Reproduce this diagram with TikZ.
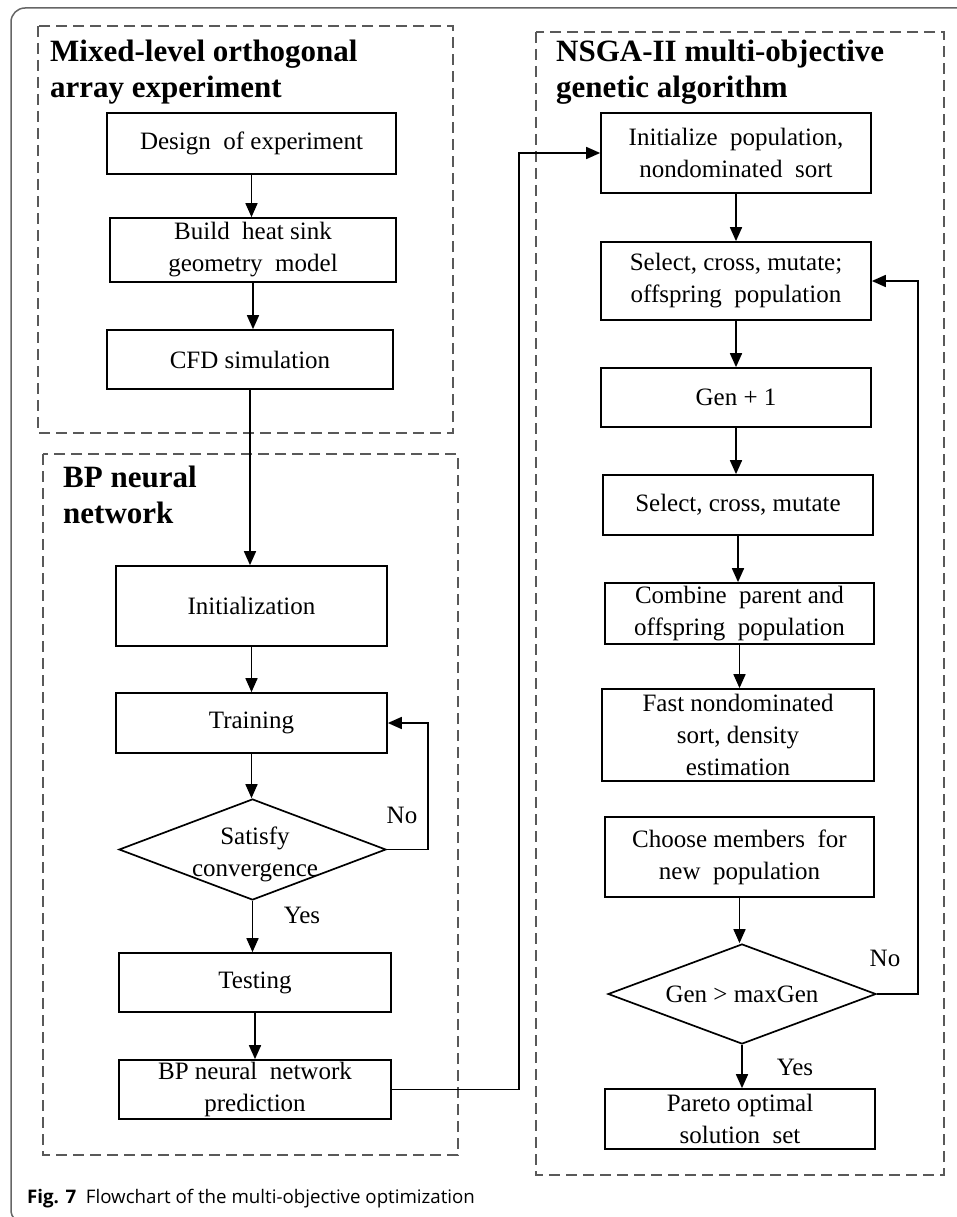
\documentclass[tikz,border=0pt]{standalone}
\usepackage{fontspec}
\setmainfont{Liberation Serif}
\newfontfamily\capfont{Open Sans}
\usetikzlibrary{arrows.meta,shapes.geometric}
\newcommand\bxfont{\fontsize{25}{32}\selectfont}
\newcommand\ttlfont{\fontsize{31}{36}\selectfont\bfseries}
\begin{document}
\begin{tikzpicture}[x=1pt,y=-1pt,
  box/.style={draw, line width=1.7pt, inner sep=2pt, align=center, font=\bxfont},
  dia/.style={draw, diamond, line width=1.7pt, inner sep=0pt},
  lbl/.style={font=\bxfont, inner sep=0pt},
  ttl/.style={font=\ttlfont, anchor=base west, inner sep=0pt},
  arr/.style={-{Triangle[length=14pt,width=12pt]}, line width=1.7pt},
  grp/.style={draw=black!65, line width=1.6pt, dash pattern=on 11pt off 6pt},
  frame/.style={draw=black!60, line width=1.5pt, rounded corners=14pt}]
\useasboundingbox (0,0) rectangle (957,1217);
\fill[white] (0,0) rectangle (957,1217);
\begin{scope}
\clip (0,0) rectangle (957,1217);
\draw[frame] (11,8) rectangle (995,1224);
\end{scope}

% group boxes
\draw[grp] (38,26) rectangle (453,433);
\draw[grp] (43,454) rectangle (458,1155);
\draw[grp] (536,32) rectangle (944,1175);

% titles
\node[ttl] (t1a) at (50,62) {Mixed-level orthogonal};
\node[ttl] (t1b) at (50,98) {array experiment};
\node[ttl] (t2a) at (63,487) {BP neural};
\node[ttl] (t2b) at (63,523) {network};
\node[ttl] (t3a) at (556,62) {NSGA-II multi-objective};
\node[ttl] (t3b) at (556,98) {genetic algorithm};

% left column
\node[box, minimum width=289pt, minimum height=61pt] (doe) at (251.5,143.5) {Design\ \ of experiment};
\node[box, minimum width=286pt, minimum height=64pt] (build) at (253,250) {Build\ \ heat sink\\geometry\ \ model};
\node[box, minimum width=286pt, minimum height=59pt] (cfd) at (250,359.5) {CFD simulation};
\node[box, minimum width=271pt, minimum height=80pt] (init) at (251.5,606) {Initialization};
\node[box, minimum width=271pt, minimum height=60pt] (train) at (251.5,723) {Training};
\node[dia, minimum width=267pt, minimum height=101pt] (sat) at (252.5,849.5) {};
\node[lbl, align=center] (satt) at (255,854) {Satisfy\\convergence};
\node[box, minimum width=272pt, minimum height=59pt] (test) at (255,982.5) {Testing};
\node[box, minimum width=272pt, minimum height=59pt] (pred) at (255,1089.5) {BP neural\ \ network\\prediction};
\node[lbl] (no1) at (402,815) {No};
\node[lbl] (yes1) at (302,915) {Yes};

% right column
\node[box, minimum width=270pt, minimum height=80pt] (ipop) at (736,153) {Initialize\ \ population,\\nondominated\ \ sort};
\node[box, minimum width=270pt, minimum height=78pt] (sco) at (736,281) {Select,\ cross,\ mutate;\\offspring\ \ population};
\node[box, minimum width=270pt, minimum height=59pt] (gen) at (736,397.5) {Gen + 1};
\node[box, minimum width=270pt, minimum height=60pt] (scm) at (738,505) {Select,\ cross,\ mutate};
\node[box, minimum width=269pt, minimum height=61pt] (comb) at (739.5,613.5) {Combine\ \ parent\ and\\offspring\ \ population};
\node[box, minimum width=272pt, minimum height=92pt] (fast) at (738,735) {Fast nondominated\\sort, density\\estimation};
\node[box, minimum width=269pt, minimum height=80pt] (choose) at (739.5,857) {Choose members\ \ for\\new\ \ population};
\node[dia, minimum width=268pt, minimum height=100pt] (gdia) at (742,994) {};
\node[lbl] (gdiat) at (742,994) {Gen > maxGen};
\node[box, minimum width=270pt, minimum height=60pt] (pareto) at (740,1119) {Pareto optimal\\solution\ \ set};
\node[lbl] (no2) at (885,958) {No};
\node[lbl] (yes2) at (795,1067) {Yes};

% connectors left
\draw[arr] (doe.south) -- (doe.south |- build.north);
\draw[arr] (build.south) -- (build.south |- cfd.north);
\draw[arr] (cfd.south) -- (cfd.south |- init.north);
\draw[arr] (init.south) -- (init.south |- train.north);
\draw[arr] (train.south) -- (train.south |- sat.north);
\draw[arr] (sat.east) -- ++(41,0) |- (train.east);
\draw[arr] (sat.south) -- (sat.south |- test.north);
\draw[arr] (test.south) -- (test.south |- pred.north);
\coordinate (j1) at (519,1089.5);
\draw[arr] (pred.east) -- (j1) |- (ipop.west);

% connectors right
\draw[arr] (ipop.south) -- (ipop.south |- sco.north);
\draw[arr] (sco.south) -- (sco.south |- gen.north);
\draw[arr] (gen.south) -- (gen.south |- scm.north);
\draw[arr] (scm.south) -- (scm.south |- comb.north);
\draw[arr] (comb.south) -- (comb.south |- fast.north);
\draw[arr] (choose.south) -- (choose.south |- gdia.north);
\draw[arr] (gdia.south) -- (gdia.south |- pareto.north);
\draw[arr] (gdia.east) -- ++(41,0) |- (sco.east);

% caption
\node[anchor=base west, inner sep=0pt, font=\capfont\fontsize{18.7}{23}\selectfont] (cap) at (27,1203) {\textbf{Fig. 7}\ \ Flowchart of the multi-objective optimization};
\end{tikzpicture}
\end{document}
